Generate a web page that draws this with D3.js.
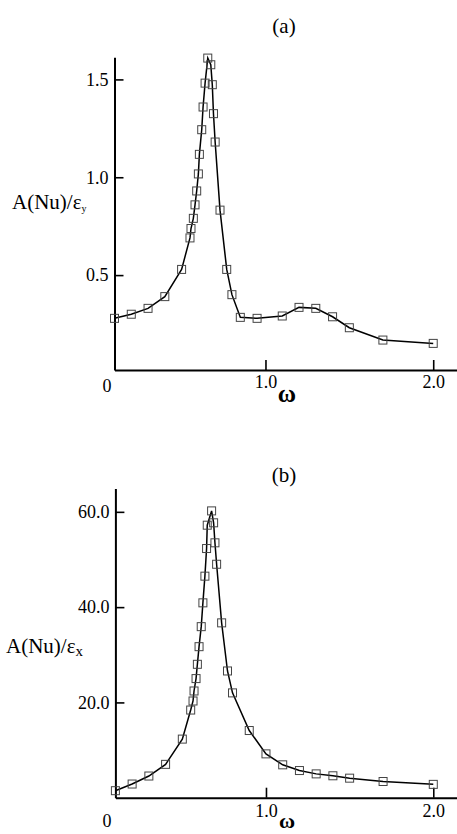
<!DOCTYPE html>
<html>
<head>
<meta charset="utf-8">
<script src="https://cdn.jsdelivr.net/npm/d3@7"></script>
<style>
  body { margin: 0; background: #fff; }
  svg text { font-family: "Liberation Serif", "DejaVu Serif", serif; fill: #000; }
</style>
</head>
<body>
<div id="chart"></div>
<script>
// frequency values, panel (a)
const omega = [0.1, 0.2, 0.3, 0.4, 0.5, 0.55, 0.556, 0.57, 0.58, 0.59, 0.6, 0.606, 0.62, 0.628, 0.64, 0.656,
               0.674, 0.683, 0.69, 0.70, 0.729, 0.769, 0.80, 0.85, 0.95, 1.1, 1.2, 1.3, 1.4, 1.5, 1.7, 2.0];
// panel (a): A(Nu)/eps_y
const ampY = [0.279, 0.30, 0.33, 0.39, 0.529, 0.69, 0.738, 0.79, 0.859, 0.93, 1.017, 1.117, 1.243, 1.359, 1.481, 1.609,
              1.575, 1.473, 1.325, 1.18, 0.832, 0.529, 0.40, 0.284, 0.279, 0.291, 0.335, 0.33, 0.287, 0.231, 0.168, 0.151];

// frequency values, panel (b)
const omegaB = [0.1, 0.2, 0.3, 0.4, 0.5, 0.55, 0.564, 0.57, 0.582, 0.59, 0.6, 0.613, 0.623, 0.635, 0.645, 0.649,
                0.675, 0.687, 0.695, 0.705, 0.735, 0.77, 0.80, 0.90, 1.0, 1.1, 1.2, 1.3, 1.4, 1.5, 1.7, 2.0];
// panel (b): A(Nu)/eps_x
const ampX = [1.47, 2.87, 4.55, 7.0, 12.3, 18.4, 20.3, 22.4, 25.0, 28.0, 31.7, 35.9, 40.9, 46.5, 52.3, 57.2,
              60.2, 57.7, 53.5, 49.0, 36.7, 26.6, 22.0, 14.1, 9.2, 6.9, 5.7, 5.0, 4.6, 4.1, 3.4, 2.8];

const xTicks = [1.0, 2.0];
const yTicksA = [0.5, 1.0, 1.5];
const yTicksB = [20, 40, 60];

const width = 457, height = 834;

const svg = d3.select("#chart").append("svg")
    .attr("width", width)
    .attr("height", height)
    .attr("font-family", "Liberation Serif");

const panels = [
  {
    xs: omega, ys: ampY, ticks: yTicksA, title: "(a)", sub: "y", subSize: 10,
    x: d3.scaleLinear().domain([0.1, 2.14]).range([114.5, 456.7]),
    y: d3.scaleLinear().domain([0.015, 1.613]).range([370, 57.3]),
    titleY: 33, labelX: 12, labelY: 209, tickY: 388, zeroY: 392, omegaY: 402, omegaSize: 25
  },
  {
    xs: omegaB, ys: ampX, ticks: yTicksB, title: "(b)", sub: "x", subSize: 15,
    x: d3.scaleLinear().domain([0.1, 2.14]).range([115.4, 456.7]),
    y: d3.scaleLinear().domain([0, 64.9]).range([797.7, 488.5]),
    titleY: 482, labelX: 6, labelY: 653, tickY: 817, zeroY: 827, omegaY: 828, omegaSize: 22
  }
];

panels.forEach(function (p) {
  let g = svg.append("g");
  let data = p.xs.map((d, i) => ({w: d, v: p.ys[i]}));

  // y axis, ticks pointing inward
  let yAxis = g.append("g")
      .attr("transform", "translate(" + p.x.range()[0] + ",0)")
      .call(d3.axisLeft(p.y).tickValues(p.ticks).tickFormat(d3.format(".1f"))
        .tickSizeInner(-9).tickSizeOuter(0).tickPadding(6));

  let xAxis = g.append("g")
      .attr("transform", "translate(0," + p.y.range()[0] + ")")
      .call(d3.axisBottom(p.x).tickValues(xTicks).tickFormat(d3.format(".1f"))
        .tickSizeInner(-10).tickSizeOuter(0).tickPadding(0));

  [yAxis, xAxis].forEach(function (ax) {
    ax.attr("font-family", null);
    ax.select(".domain").attr("stroke", "#000").attr("stroke-width", 2);
    ax.selectAll(".tick line").attr("stroke", "#000").attr("stroke-width", 1.6);
    ax.selectAll(".tick text")
      .attr("font-size", 18).attr("fill", "#000");
  });
  xAxis.selectAll(".tick text").attr("dy", null).attr("y", p.tickY - p.y.range()[0]);

  // curve
  g.append("path")
      .datum(data)
      .attr("fill", "none")
      .attr("stroke", "#000")
      .attr("stroke-width", 1.5)
      .attr("d", d3.line().x(d => p.x(d.w)).y(d => p.y(d.v)));

  // square markers
  g.selectAll("rect.mark")
      .data(data)
      .enter().append("rect")
      .attr("class", "mark")
      .attr("x", d => p.x(d.w) - 4)
      .attr("y", d => p.y(d.v) - 4)
      .attr("width", 8)
      .attr("height", 8)
      .attr("fill", "none")
      .attr("stroke", "#444")
      .attr("stroke-width", 1);

  // labels
  g.append("text")
      .attr("x", 284).attr("y", p.titleY)
      .attr("text-anchor", "middle")
      .attr("font-size", 21)
      .text(p.title);

  let lab = g.append("text")
      .attr("x", p.labelX).attr("y", p.labelY)
      .attr("font-size", 21);
  lab.append("tspan").text("A(Nu)/ε");
  lab.append("tspan").attr("font-size", p.subSize).attr("dy", 3).text(p.sub);

  g.append("text")
      .attr("x", 107).attr("y", p.zeroY)
      .attr("text-anchor", "middle")
      .attr("font-size", 18)
      .text("0");

  g.append("text")
      .attr("x", 287).attr("y", p.omegaY)
      .attr("text-anchor", "middle")
      .attr("font-size", p.omegaSize)
      .attr("font-weight", "bold")
      .text("ω");
});
</script>
</body>
</html>
